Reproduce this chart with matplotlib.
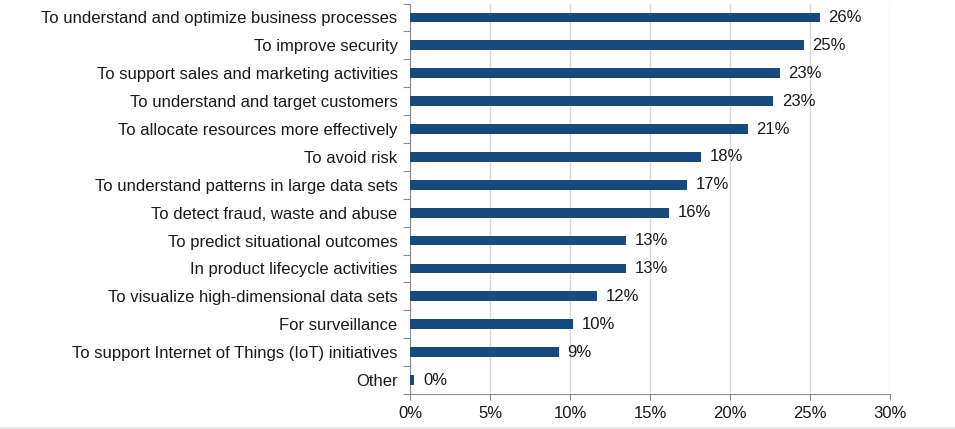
import numpy as np
import matplotlib.pyplot as plt
from matplotlib.ticker import FuncFormatter, FixedLocator

plt.rcParams['font.family'] = ['Liberation Sans', 'DejaVu Sans']

# Reasons, top to bottom
reasons = [
    "To understand and optimize business processes",
    "To improve security",
    "To support sales and marketing activities",
    "To understand and target customers",
    "To allocate resources more effectively",
    "To avoid risk",
    "To understand patterns in large data sets",
    "To detect fraud, waste and abuse",
    "To predict situational outcomes",
    "In product lifecycle activities",
    "To visualize high-dimensional data sets",
    "For surveillance",
    "To support Internet of Things (IoT) initiatives",
    "Other",
]
# Share of respondents (%)
shares = [25.6, 24.6, 23.1, 22.7, 21.1, 18.2, 17.3, 16.2, 13.5, 13.5, 11.7, 10.2, 9.3, 0.27]
# Labels as printed next to the bars
share_labels = ["26%", "25%", "23%", "23%", "21%", "18%", "17%", "16%",
                "13%", "13%", "12%", "10%", "9%", "0%"]
x_ticks = [0, 5, 10, 15, 20, 25, 30]

bar_color = '#174A7E'
axis_gray = '#8C8C8C'
text_color = '#1A1A1A'
fs = 12

fig = plt.figure(figsize=(9.55, 4.29), dpi=100)
ax = fig.add_axes([410 / 955, 1 - 394 / 429, 480 / 955, 390.5 / 429])

y = np.arange(len(reasons))
ax.barh(y, shares, height=0.35, color=bar_color, zorder=3)

for yi, v, lab in zip(y, shares, share_labels):
    ax.text(v + 0.55, yi, lab, va='center', ha='left', fontsize=fs, color=text_color)

ax.set_xlim(0, 30)
ax.set_ylim(len(reasons) - 0.5, -0.5)

ax.set_xticks(x_ticks)
ax.xaxis.set_major_formatter(FuncFormatter(lambda v, _: f"{v:.0f}%"))
ax.xaxis.grid(True, color='#D9D9D9', linewidth=1, zorder=0)

ax.set_yticks(y)
ax.set_yticklabels(reasons)
ax.tick_params(axis='y', which='major', length=0, pad=9, labelsize=fs, labelcolor=text_color)
ax.yaxis.set_minor_locator(FixedLocator(np.arange(-0.5, len(reasons), 1.0)))
ax.tick_params(axis='y', which='minor', length=5, color=axis_gray, width=0.8)
ax.tick_params(axis='x', length=4, color=axis_gray, width=0.8, pad=5,
               labelsize=fs, labelcolor=text_color)

for side in ['top', 'right']:
    ax.spines[side].set_visible(False)
for side in ['left', 'bottom']:
    ax.spines[side].set_color(axis_gray)
    ax.spines[side].set_linewidth(0.8)

# thin gray strip along the bottom edge of the image
fig.add_artist(plt.Rectangle((0, 0), 1, 2 / 429, transform=fig.transFigure,
                             color='#E6E6E6', linewidth=0))

fig.savefig('out.png', dpi=100)
